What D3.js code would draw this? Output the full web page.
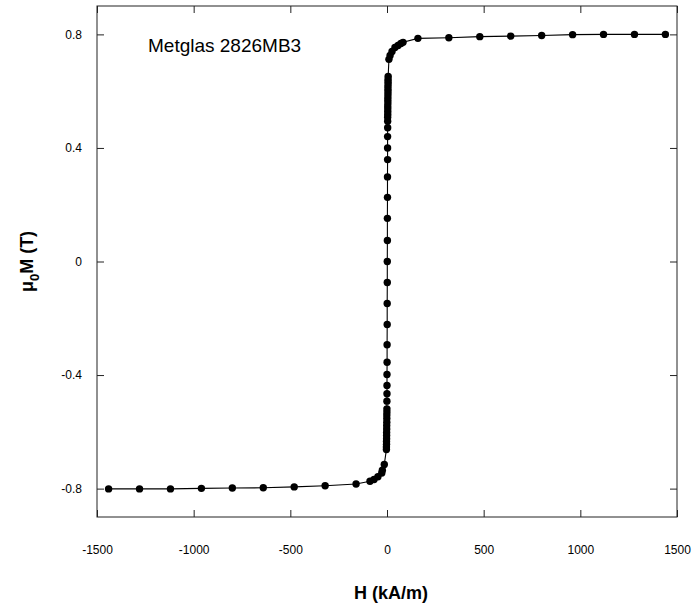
<!DOCTYPE html>
<html>
<head>
<meta charset="utf-8">
<script src="https://cdn.jsdelivr.net/npm/d3@7"></script>
<style>
  body { margin: 0; background: #fff; }
  svg { display: block; font-family: "Liberation Sans", Arial, sans-serif; }
</style>
</head>
<body>
<svg id="chart"></svg>
<script>
const width = 693;
const height = 607;
const margin = { top: 6, right: 16, bottom: 90, left: 97 };

// applied field H (kA/m), swept from negative to positive saturation
const hField = [
  -1440, -1280, -1120, -960, -800, -640, -480, -320, -160,
  -88, -67, -47, -27, -24, -14,
  -3, -3, -2.5, -2.5, -2, -2, -2, -1.5, -1.5, -1, -1, -1, -0.5, -0.5,
  -0.5, 0, 0, 0, 0.5, 0.5, 1,
  1, 1.5, 1.5, 2, 2, 2.5, 2.5, 3, 3, 3, 3.5,
  3.5, 3.5, 4, 4, 4, 4, 4.5, 4.5, 4.5, 5, 5, 5, 5, 5.5, 5.5, 5.5, 6,
  10, 16, 26, 41, 57, 72, 83,
  160, 320, 480, 640, 800, 960, 1120, 1280, 1440
];

// magnetisation mu0*M (T)
const mag = [
  -0.801, -0.801, -0.801, -0.799, -0.798, -0.797, -0.794, -0.790, -0.784,
  -0.774, -0.768, -0.758, -0.745, -0.735, -0.715,
  -0.662, -0.653, -0.644, -0.634, -0.624, -0.613, -0.602, -0.590, -0.578, -0.566, -0.553, -0.541, -0.530, -0.519,
  -0.492, -0.466, -0.437, -0.398, -0.355, -0.293, -0.222,
  -0.148, -0.074, 0, 0.074, 0.152, 0.226, 0.298, 0.359, 0.400, 0.440, 0.471,
  0.494, 0.508, 0.518, 0.528, 0.538, 0.548, 0.558, 0.568, 0.578, 0.588, 0.598, 0.607, 0.616, 0.625, 0.633, 0.641, 0.652,
  0.712, 0.726, 0.740, 0.754, 0.761, 0.768, 0.772,
  0.786, 0.788, 0.792, 0.794, 0.796, 0.799, 0.800, 0.800, 0.800
];

const xTicks = [-1500, -1000, -500, 0, 500, 1000, 1500];
const xTickLabels = ["-1500", "-1000", "-500", "0", "500", "1000", "1500"];
const yTicks = [-0.8, -0.4, 0, 0.4, 0.8];
const yTickLabels = ["-0.8", "-0.4", "0", "0.4", "0.8"];

const points = hField.map((h, i) => ({ h: h, m: mag[i] }));

const svg = d3.select("#chart")
  .attr("width", width)
  .attr("height", height);

const x = d3.scaleLinear()
  .domain([-1500, 1500])
  .range([margin.left, width - margin.right]);

const y = d3.scaleLinear()
  .domain([-0.9, 0.9])
  .range([height - margin.bottom, margin.top]);

// axes: ticks point inwards on all four sides
const xAxis = d3.axisBottom(x)
  .tickValues(xTicks)
  .tickFormat((d, i) => xTickLabels[i])
  .tickSize(-7)
  .tickPadding(28);

const yAxis = d3.axisLeft(y)
  .tickValues(yTicks)
  .tickFormat((d, i) => yTickLabels[i])
  .tickSize(-7)
  .tickPadding(15);

svg.append("g")
  .attr("transform", `translate(0, ${height - margin.bottom})`)
  .call(xAxis);

svg.append("g")
  .attr("transform", `translate(${margin.left}, 0)`)
  .call(yAxis);

svg.append("g")
  .attr("transform", `translate(0, ${margin.top})`)
  .call(d3.axisTop(x).tickValues(xTicks).tickFormat("").tickSize(-7));

svg.append("g")
  .attr("transform", `translate(${width - margin.right}, 0)`)
  .call(d3.axisRight(y).tickValues(yTicks).tickFormat("").tickSize(-7));

svg.selectAll(".domain").remove();
svg.selectAll(".tick line").attr("stroke", "#222");
svg.selectAll(".tick text")
  .attr("font-size", 12)
  .attr("fill", "#000")
  .attr("font-family", "Liberation Sans, Arial, sans-serif");

// frame
svg.append("rect")
  .attr("x", x(-1500))
  .attr("y", y(0.9))
  .attr("width", x(1500) - x(-1500))
  .attr("height", y(-0.9) - y(0.9))
  .attr("fill", "none")
  .attr("stroke", "#222")
  .attr("stroke-width", 1);

// curve
const line = d3.line()
  .x(d => x(d.h))
  .y(d => y(d.m));

svg.append("path")
  .datum(points)
  .attr("fill", "none")
  .attr("stroke", "#000")
  .attr("stroke-width", 1.1)
  .attr("d", line);

svg.selectAll(".dot")
  .data(points)
  .enter()
  .append("circle")
  .attr("class", "dot")
  .attr("cx", d => x(d.h))
  .attr("cy", d => y(d.m))
  .attr("r", 3.7)
  .attr("fill", "#000");

// title inside plot
svg.append("text")
  .attr("x", 148)
  .attr("y", 52)
  .attr("font-size", 19)
  .attr("fill", "#000")
  .text("Metglas 2826MB3");

// axis titles
svg.append("text")
  .attr("x", (x(-1500) + x(1500)) / 2 + 4)
  .attr("y", 599)
  .attr("text-anchor", "middle")
  .attr("font-size", 18)
  .attr("font-weight", "bold")
  .text("H (kA/m)");

const yTitle = svg.append("text")
  .attr("transform", `translate(33, ${(y(0.9) + y(-0.9)) / 2}) rotate(-90)`)
  .attr("text-anchor", "middle")
  .attr("font-size", 18)
  .attr("font-weight", "bold");

yTitle.append("tspan").text("μ");
yTitle.append("tspan").attr("font-size", 13).attr("dy", 6).text("0");
yTitle.append("tspan").attr("dy", -6).text("M (T)");
</script>
</body>
</html>
